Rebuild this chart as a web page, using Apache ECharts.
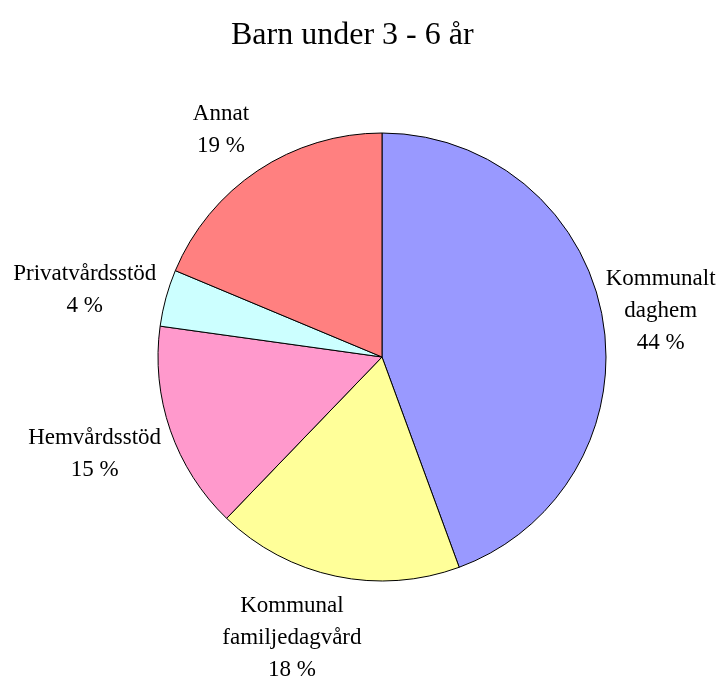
<!DOCTYPE html>
<html>
<head>
<meta charset="utf-8">
<script src="https://cdn.jsdelivr.net/npm/echarts@6/dist/echarts.min.js"></script>
<style>
  html, body { margin: 0; padding: 0; background: #fff; }
  #chart { width: 728px; height: 684px; }
</style>
</head>
<body>
<div id="chart"></div>
<script>
const categories = [
  'Kommunalt\ndaghem',
  'Kommunal\nfamiljedagvård',
  'Hemvårdsstöd',
  'Privatvårdsstöd',
  'Annat'
]
// shares read from the slice edges (labels show them rounded)
const values = [44.4, 17.8, 15.0, 4.1, 18.7]
const colors = ['#9999FF', '#FFFF99', '#FF99CC', '#CCFFFF', '#FF8080']
// label placement tweaks: distance past the rim, then nudge
const labelGap = [60, 68, 78, 81, 54]
const labelNudge = [[-6, 4], [-25, -5], [3, -2], [2, 13], [-2, 4]]

const chart = echarts.init(document.getElementById('chart'))
chart.setOption({
  animation: false,
  title: {
    text: 'Barn under 3 - 6 år',
    left: 226,
    top: 15,
    textStyle: {
      fontFamily: 'Liberation Serif',
      fontWeight: 'normal',
      fontSize: 32,
      color: '#000'
    }
  },
  series: [
    {
      type: 'pie',
      center: [382, 357],
      radius: 224,
      startAngle: 90,
      clockwise: true,
      avoidLabelOverlap: false,
      data: categories.map((name, i) => ({
        name,
        value: values[i],
        itemStyle: { color: colors[i] },
        labelLine: { length: labelGap[i] }
      })),
      itemStyle: { borderColor: '#000', borderWidth: 1 },
      label: {
        show: true,
        position: 'outside',
        formatter: (p) => `${p.name}\n${Math.round(p.value)} %`,
        fontFamily: 'Liberation Serif',
        fontSize: 23,
        lineHeight: 32,
        color: '#000',
        align: 'center'
      },
      labelLine: { show: false, length2: 0 },
      labelLayout: (params) => ({
        align: 'center',
        dx: labelNudge[params.dataIndex][0],
        dy: labelNudge[params.dataIndex][1]
      }),
      emphasis: { disabled: true }
    }
  ]
})
</script>
</body>
</html>
